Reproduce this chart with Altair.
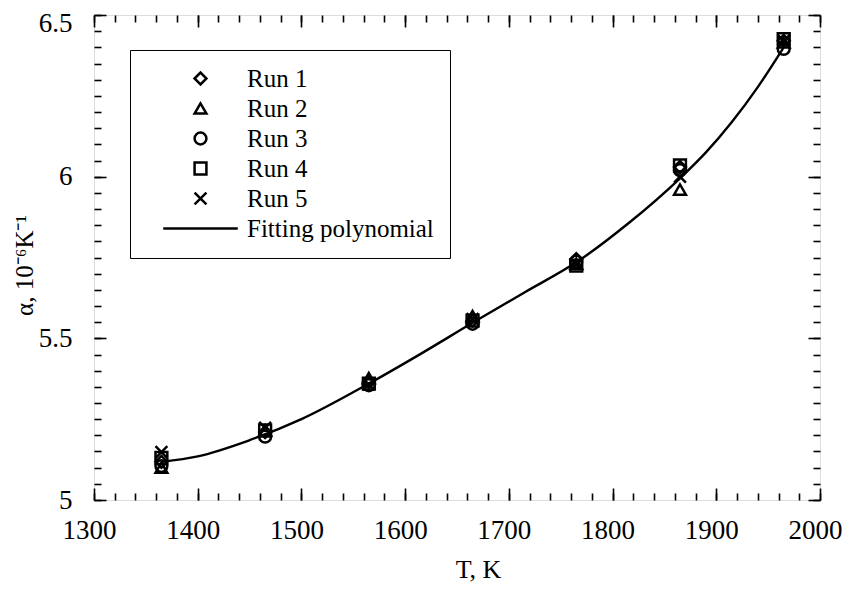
import altair as alt
import pandas as pd

# ---- data ----
T = [1365, 1465, 1565, 1665, 1765, 1865, 1965]
run1 = [5.118, 5.210, 5.365, 5.555, 5.745, 6.030, 6.420]
run2 = [5.100, 5.215, 5.377, 5.569, 5.730, 5.960, 6.415]
run3 = [5.105, 5.196, 5.355, 5.545, 5.737, 6.020, 6.395]
run4 = [5.130, 5.215, 5.360, 5.555, 5.725, 6.035, 6.425]
run5 = [5.148, 5.223, 5.357, 5.560, 5.730, 6.000, 6.420]

curve_T = [1365, 1400, 1450, 1500, 1565, 1615, 1665, 1715, 1765, 1815, 1865, 1890, 1915, 1940, 1965]
curve_a = [5.118, 5.135, 5.185, 5.250, 5.360, 5.452, 5.548, 5.642, 5.735, 5.855, 5.995, 6.075, 6.169, 6.277, 6.400]

series = ["Run 1", "Run 2", "Run 3", "Run 4", "Run 5", "Fitting polynomial"]
shapes = ["diamond", "triangle-up", "circle", "square",
          "M-1,-1L1,1M-1,1L1,-1", "M-6.3,0L6.3,0"]

x_major = [1300, 1400, 1500, 1600, 1700, 1800, 1900, 2000]
x_minor = [1300 + 20 * i for i in range(36)]
y_labels_low = [5.0, 5.5, 6.0]
y_labels_top = [6.5]
y_major = [5.0, 5.5, 6.0, 6.5]
y_minor = [round(5 + 0.05 * i, 2) for i in range(31)]

rows = []
for name, vals in zip(series[:5], [run1, run2, run3, run4, run5]):
    for t, v in zip(T, vals):
        rows.append({"T": t, "alpha": v, "series": name})
pts = pd.DataFrame(rows)
curve = pd.DataFrame({"T": curve_T, "alpha": curve_a})

W, H = 726, 485
FONT = "Liberation Serif"

xs = alt.Scale(domain=[1300, 2000], nice=False, zero=False)
ys = alt.Scale(domain=[5, 6.5], nice=False, zero=False)


def tick_axis(orient, offset, values, size):
    return alt.Axis(orient=orient, offset=offset, values=values, tickSize=size,
                    tickColor="black", tickWidth=1.6, labels=False, domain=False,
                    grid=False, title=None)


def y_label_axis(values, offset, title):
    if title:
        kw = dict(title="α, 10⁻⁶K⁻¹", titleFont=FONT, titleFontSize=25, titleFontWeight="normal",
                  titleColor="black", titleBaseline="middle", titleX=-70, titleY=250)
    else:
        kw = dict(title=None)
    return alt.Axis(orient="left", values=values, format=".1~f", labelFont=FONT, labelFontSize=27,
                    labelColor="black", labelPadding=22, labelOffset=offset, ticks=False, tickSize=0,
                    domain=False, grid=False, **kw)


# main line layer with labelled axes
line = alt.Chart(curve).mark_line(color="black", strokeWidth=2.4, interpolate="monotone").encode(
    x=alt.X("T:Q", scale=xs, axis=alt.Axis(
        orient="bottom", values=x_major, format="d", labelFont=FONT, labelFontSize=27,
        labelColor="black", labelPadding=17, labelFlush=False, labelOffset=-5, ticks=False,
        tickSize=0, domain=False, grid=False,
        title="T, K", titleFont=FONT, titleFontSize=26, titleFontWeight="normal",
        titleColor="black", titlePadding=13, titleX=384)),
    y=alt.Y("alpha:Q", scale=ys, axis=y_label_axis(y_labels_low, 0, True)),
)

points = alt.Chart(pts).mark_point(filled=False, color="black", size=140, strokeWidth=2.5, opacity=1).encode(
    x=alt.X("T:Q", scale=xs, axis=tick_axis("top", -H, x_major, 12)),
    y=alt.Y("alpha:Q", scale=ys, axis=tick_axis("right", -W, y_major, 12)),
    shape=alt.Shape("series:N", scale=alt.Scale(domain=series, range=shapes),
                    legend=alt.Legend(
                        orient="none", legendX=36, legendY=35, title=None,
                        strokeColor="black", fillColor="white", padding=16,
                        labelFont=FONT, labelFontSize=25, labelColor="black", labelLimit=400,
                        symbolSize=140, symbolStrokeWidth=2.5, symbolStrokeColor="black",
                        symbolFillColor="transparent", symbolOffset=42, labelOffset=34,
                        rowPadding=4)),
)


def ghost(x_axis, y_axis):
    return alt.Chart(pts).mark_point(opacity=0).encode(
        x=alt.X("T:Q", scale=xs, axis=x_axis),
        y=alt.Y("alpha:Q", scale=ys, axis=y_axis),
    )


g1 = ghost(tick_axis("top", -H, x_minor, 7), tick_axis("right", -W, y_minor, 7))
g2 = ghost(tick_axis("bottom", -H, x_major, 12), tick_axis("left", -W, y_major, 12))
g3 = ghost(tick_axis("bottom", -H, x_minor, 7), tick_axis("left", -W, y_minor, 7))
g4 = ghost(None, y_label_axis(y_labels_top, 8, False))

chart = alt.layer(line, points, g1, g2, g3, g4).resolve_axis(x="independent", y="independent").properties(
    width=W, height=H,
    autosize=alt.AutoSizeParams(type="none"),
    padding={"left": 86, "top": 7, "right": 22, "bottom": 90},
).configure_view(stroke="black", strokeWidth=2.2).configure(background="white")

chart.save("out.html", embed_options={"renderer": "svg", "actions": False})
